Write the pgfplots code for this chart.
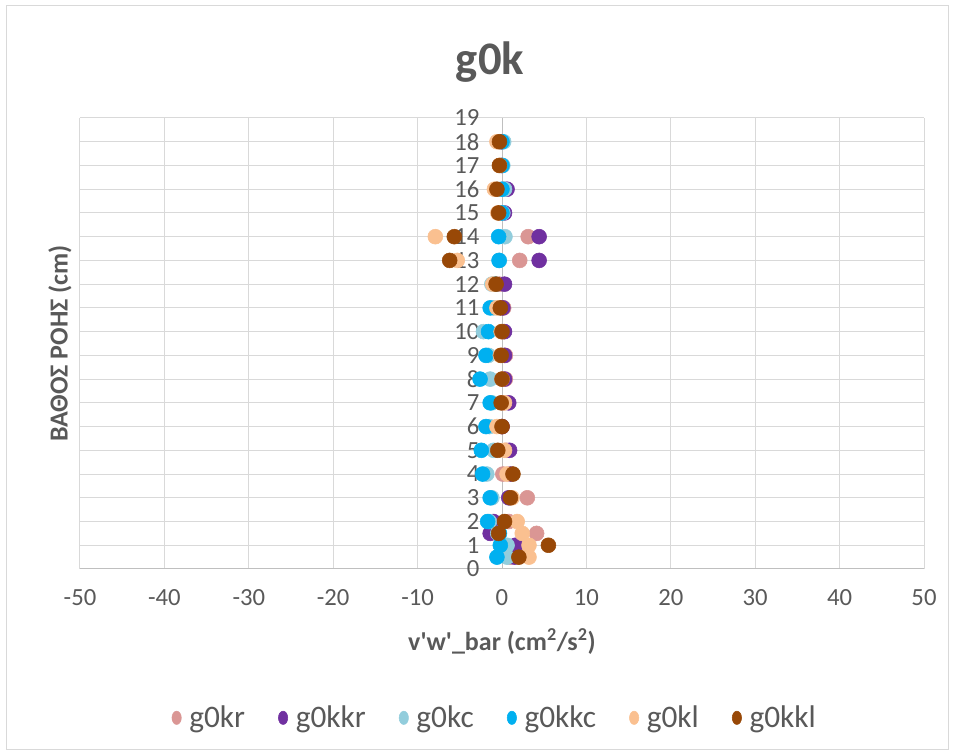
\documentclass[border=0pt]{standalone}
\usepackage{pgfplots}
\pgfplotsset{compat=1.18}
\usepackage{pgfplotstable}
\usepackage{fontspec}
\setmainfont{Carlito}[Ligatures=TeXOff]
\definecolor{textc}{HTML}{595959}
\definecolor{gridc}{HTML}{D9D9D9}
\definecolor{axisc}{HTML}{BFBFBF}
\definecolor{ckr}{HTML}{DA9694}
\definecolor{ckkr}{HTML}{7030A0}
\definecolor{ckc}{HTML}{92CDDC}
\definecolor{ckkc}{HTML}{00B0F0}
\definecolor{ckl}{HTML}{FAC090}
\definecolor{ckkl}{HTML}{984807}
\pgfplotstableread{
y    kr    kkr   kc    kkc   kl    kkl
0.5  1.0   1.5   0.6   -0.6  3.2   2.0
1    2.5   1.6   0.6   -0.2  3.2   5.5
1.5  4.1   -1.4  -0.5  -0.3  2.4   -0.4
2    0.8   -1.0  -1.5  -1.7  1.8   0.3
3    3.0   0.8   -1.2  -1.4  1.2   1.0
4    0.1   1.0   -1.8  -2.3  0.6   1.3
5    0.5   0.9   -1.0  -2.45 0.3   -0.5
6    0.0   0.0   -1.5  -1.9  -0.6  0.0
7    0.2   0.8   -1.2  -1.4  0.3   -0.1
8    0.4   0.3   -1.4  -2.6  0.0   0.0
9    0.4   0.3   -1.6  -1.9  -0.2  -0.1
10   0.2   0.3   -2.2  -1.6  -0.1  0.0
11   0.2   0.1   -1.0  -1.4  -0.6  -0.2
12   -0.3  0.3   -1.2  -0.8  -1.1  -0.7
13   2.1   4.4   -0.3  -0.35 -5.3  -6.2
14   3.1   4.4   0.35  -0.4  -7.9  -5.65
15   0.0   0.3   0.1   0.0   -0.5  -0.4
16   0.2   0.6   0.3   0.0   -0.9  -0.6
17   -0.1  0.0   0.1   0.0   -0.3  -0.3
18   0.0   0.0   0.2   0.0   -0.6  -0.3
}\data
\begin{document}
\begin{tikzpicture}
\path (0,0) rectangle (715.5pt,567pt);
\draw[gridc, line width=0.75pt] (4.5pt,4.5pt) rectangle (711pt,562.5pt);
\node[font=\fontsize{35}{40}\selectfont\bfseries, text=textc] at (367.5pt,520.5pt) {g0k};
\begin{axis}[
  at={(60pt,140.25pt)}, anchor=south west,
  scale only axis, width=633pt, height=338.25pt,
  xmin=-50, xmax=50, ymin=0, ymax=19,
  xtick={-50,-40,...,50}, ytick={0,1,...,19},
  grid=major, grid style={color=gridc, line width=0.75pt},
  axis x line=bottom, axis y line=middle,
  axis line style={-, color=axisc, line width=0.75pt},
  every inner x axis line/.append style={-},
  every inner y axis line/.append style={-},
  every outer x axis line/.append style={-},
  every outer y axis line/.append style={-},
  major tick length=0pt,
  hide obscured x ticks=false, hide obscured y ticks=false,
  tick label style={font=\fontsize{18.5}{21}\selectfont, text=textc},
  /pgf/number format/assume math mode=true,
  xticklabel style={yshift=-12pt},
  yticklabel style={xshift=-13.5pt},
  xlabel={v'w'\_bar (cm\textsuperscript{2}/s\textsuperscript{2})},
  xlabel style={at={(axis description cs:0.5,-0.16)}, anchor=center, font=\fontsize{19.5}{24}\selectfont\bfseries, text=textc},
  ylabel={ΒΑΘΟΣ ΡΟΗΣ (cm)},
  ylabel style={at={(axis description cs:-0.0237,0.5)}, anchor=center, rotate=90, font=\fontsize{19.5}{24}\selectfont\bfseries, text=textc},
  legend columns=6,
  legend style={at={(0.492,-0.33)}, anchor=center, draw=none, fill=none,
    font=\fontsize{23.5}{26}\selectfont, text=textc,
    /tikz/every even column/.append style={column sep=23pt},
    /tikz/every odd column/.append style={column sep=4pt}},
  legend image post style={mark size=5pt, mark options={xscale=0.7}},
  every axis plot/.append style={only marks, mark=*, mark size=5.6pt},
]
\addplot[color=ckr, mark options={draw=ckr, fill=ckr}] table[x=kr, y=y] {\data};
\addlegendentry{g0kr}
\addplot[color=ckkr, mark options={draw=ckkr, fill=ckkr}] table[x=kkr, y=y] {\data};
\addlegendentry{g0kkr}
\addplot[color=ckc, mark options={draw=ckc, fill=ckc}] table[x=kc, y=y] {\data};
\addlegendentry{g0kc}
\addplot[color=ckkc, mark options={draw=ckkc, fill=ckkc}] table[x=kkc, y=y] {\data};
\addlegendentry{g0kkc}
\addplot[color=ckl, mark options={draw=ckl, fill=ckl}] table[x=kl, y=y] {\data};
\addlegendentry{g0kl}
\addplot[color=ckkl, mark options={draw=ckkl, fill=ckkl}] table[x=kkl, y=y] {\data};
\addlegendentry{g0kkl}
\end{axis}
\end{tikzpicture}
\end{document}
